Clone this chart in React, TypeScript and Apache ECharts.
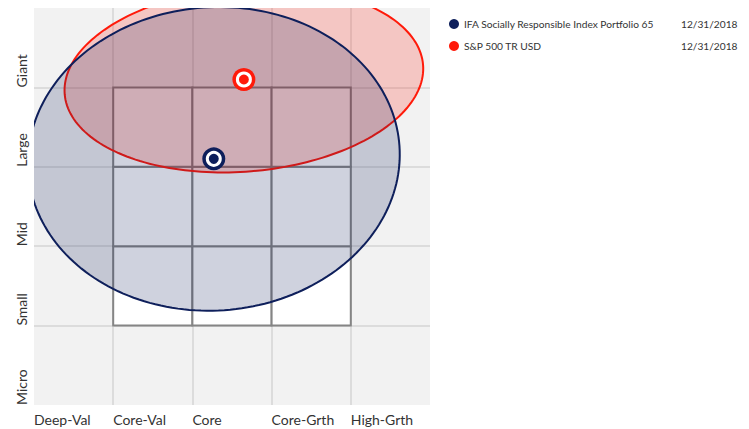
import React, { useEffect, useRef } from "react";
import * as echarts from "echarts";

const styleLabels = ["Deep-Val", "Core-Val", "Core", "Core-Grth", "High-Grth"];
const sizeLabels = ["Micro", "Small", "Mid", "Large", "Giant"];
const seriesNames = ["IFA Socially Responsible Index Portfolio 65", "S&P 500 TR USD"];
const asOfDates = ["12/31/2018", "12/31/2018"];
const seriesColors = ["#0e1f5b", "#ff1a0a"];
const centroidX = [2.27, 2.65];
const centroidY = [3.1, 4.1];
const zoneRadiusX = [2.35, 2.27];
const zoneRadiusY = [1.91, 1.16];
const zoneTilt = [4, 4.7];
const boxCols = [1, 2, 3];
const boxRows = [1, 2, 3];

function rgba(hex: string, a: number) {
  const n = parseInt(hex.slice(1), 16);
  return `rgba(${(n >> 16) & 255},${(n >> 8) & 255},${n & 255},${a})`;
}

export default function App() {
  const ref = useRef<HTMLDivElement>(null);
  useEffect(() => {
    document.body.style.margin = "0";
    const chart = echarts.init(ref.current!, undefined, { renderer: "svg" });
    const boxData: number[][] = [];
    boxCols.forEach((c) => boxRows.forEach((r) => boxData.push([c, r])));

    const zoneSeries = [1, 0].map((i) => ({
      type: "custom",
      name: seriesNames[i],
      clip: true,
      z: 3,
      encode: { x: 0, y: 1 },
      data: [[centroidX[i], centroidY[i], zoneRadiusX[i], zoneRadiusY[i], zoneTilt[i]]],
      renderItem: (params: any, api: any) => {
        const c = api.coord([api.value(0), api.value(1)]);
        const rx = api.size([api.value(2), 0])[0];
        const ry = api.size([0, api.value(3)])[1];
        const t = (-api.value(4) * Math.PI) / 180;
        const pts: number[][] = [];
        const N = 200;
        for (let k = 0; k < N; k++) {
          const a = (k / N) * Math.PI * 2;
          const ex = rx * Math.cos(a);
          const ey = ry * Math.sin(a);
          pts.push([
            c[0] + ex * Math.cos(t) - ey * Math.sin(t),
            c[1] + ex * Math.sin(t) + ey * Math.cos(t),
          ]);
        }
        return {
          type: "polygon",
          shape: { points: pts },
          style: { fill: rgba(seriesColors[i], 0.2), stroke: seriesColors[i], lineWidth: 2 },
        };
      },
    }));

    const markerSeries: any[] = [];
    [0, 1].forEach((i) => {
      markerSeries.push({
        type: "scatter",
        name: seriesNames[i],
        z: 5,
        symbol: "circle",
        symbolSize: 23,
        itemStyle: { color: seriesColors[i], opacity: 1 },
        data: [[centroidX[i], centroidY[i]]],
      });
      markerSeries.push({
        type: "scatter",
        name: seriesNames[i],
        z: 6,
        symbol: "circle",
        symbolSize: 13,
        itemStyle: { color: seriesColors[i], borderColor: "#ffffff", borderWidth: 3, opacity: 1 },
        data: [[centroidX[i], centroidY[i]]],
      });
    });

    chart.setOption({
      animation: false,
      backgroundColor: "#ffffff",
      textStyle: { fontFamily: "Lato" },
      grid: {
        left: 34,
        top: 8,
        width: 396,
        height: 397,
        show: true,
        backgroundColor: "#f2f2f2",
        borderWidth: 0,
      },
      legend: {
        orient: "vertical",
        left: 444,
        top: 14,
        itemWidth: 10,
        itemHeight: 10,
        itemGap: 12,
        icon: "circle",
        data: seriesNames.map((n, i) => ({
          name: n,
          itemStyle: { color: seriesColors[i], borderWidth: 0 },
        })),
        formatter: (name: string) => `{n|${name}}{d|${asOfDates[seriesNames.indexOf(name)]}}`,
        textStyle: {
          color: "#333333",
          fontSize: 10.2,
          fontFamily: "Lato",
          rich: {
            n: { width: 217, fontSize: 10.2, fontFamily: "Lato", color: "#333333" },
            d: { fontSize: 10.2, fontFamily: "Lato", color: "#333333" },
          },
        },
      },
      xAxis: {
        type: "value",
        min: 0,
        max: 5,
        interval: 1,
        axisLine: { show: false },
        axisTick: { show: false },
        splitLine: {
          show: true,
          showMinLine: false,
          showMaxLine: false,
          lineStyle: { color: "#dcdcdc", width: 2 },
        },
        axisLabel: {
          formatter: (v: number) => styleLabels[v] ?? "",
          align: "left",
          margin: 7,
          fontSize: 14,
          fontFamily: "Lato",
          color: "#333333",
        },
      },
      yAxis: {
        type: "value",
        min: 0,
        max: 5,
        interval: 1,
        axisLine: { show: false },
        axisTick: { show: false },
        splitLine: {
          show: true,
          showMinLine: false,
          showMaxLine: false,
          lineStyle: { color: "#dcdcdc", width: 2 },
        },
        axisLabel: {
          formatter: (v: number) => sizeLabels[v] ?? "",
          rotate: 90,
          align: "left",
          verticalAlign: "middle",
          margin: 13,
          fontSize: 14,
          fontFamily: "Lato",
          color: "#333333",
        },
      },
      series: [
        {
          type: "custom",
          name: "Style Box",
          z: 2,
          silent: true,
          encode: { x: 0, y: 1 },
          data: boxData,
          renderItem: (params: any, api: any) => {
            const x0 = api.value(0);
            const y0 = api.value(1);
            const p1 = api.coord([x0, y0 + 1]);
            const p2 = api.coord([x0 + 1, y0]);
            return {
              type: "rect",
              shape: { x: p1[0], y: p1[1], width: p2[0] - p1[0], height: p2[1] - p1[1] },
              style: { fill: "#ffffff", stroke: "#858585", lineWidth: 2 },
            };
          },
        },
        ...zoneSeries,
        ...markerSeries,
      ],
    });
    return () => chart.dispose();
  }, []);
  return <div ref={ref} style={{ width: 749, height: 429 }} />;
}
